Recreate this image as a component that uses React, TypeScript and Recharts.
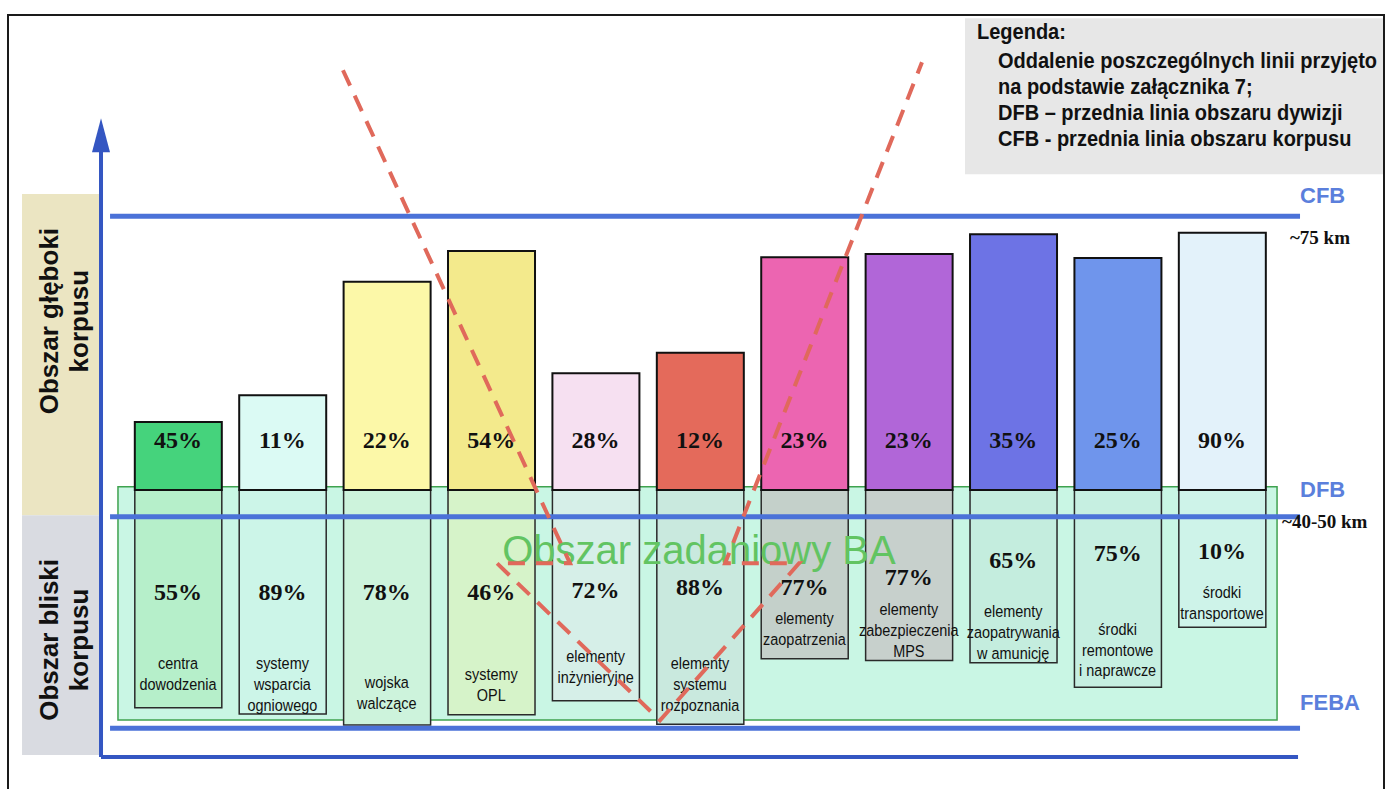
import React from "react";
import { ComposedChart, Bar, Cell, Scatter, XAxis, YAxis, ReferenceArea } from "recharts";

// horizontal unit = one column slot, vertical unit = % of the picture height
const X_DOMAIN: [number, number] = [-0.705, 12.628];
const Y_DOMAIN: [number, number] = [0, 100];

const columns = [1, 2, 3, 4, 5, 6, 7, 8, 9, 10, 11];
const categoryLines = [
  ["centra", "dowodzenia"],
  ["systemy", "wsparcia", "ogniowego"],
  ["wojska", "walczące"],
  ["systemy", "OPL"],
  ["elementy", "inżynieryjne"],
  ["elementy", "systemu", "rozpoznania"],
  ["elementy", "zaopatrzenia"],
  ["elementy", "zabezpieczenia", "MPS"],
  ["elementy", "zaopatrywania", "w amunicję"],
  ["środki", "remontowe", "i naprawcze"],
  ["środki", "transportowe"],
];
const deepShare = ["45%", "11%", "22%", "54%", "28%", "12%", "23%", "23%", "35%", "25%", "90%"];
const closeShare = ["55%", "89%", "78%", "46%", "72%", "88%", "77%", "77%", "65%", "75%", "10%"];

const barTop = [46.5, 49.9, 64.3, 68.2, 52.7, 55.3, 67.4, 67.8, 70.3, 67.3, 70.5];
const boxBottom = [10.3, 9.5, 8.1, 9.4, 11.2, 8.2, 16.5, 16.3, 16.0, 12.9, 20.5];
const SPLIT = 37.9;

const deepPctY = 44.2;
const closePctY = [25.0, 25.0, 25.0, 25.0, 25.2, 25.6, 25.6, 26.9, 29.0, 29.9, 30.2];
const categoryY = [16.0, 16.0, 13.6, 14.6, 16.9, 16.0, 21.7, 22.9, 22.6, 20.4, 25.0];

const deepColors = ["#45d37c", "#dbfaf4", "#fcf8a8", "#f3ea8c", "#f6e0f1", "#e46a5b", "#ec65b1", "#b166d8", "#6d73e5", "#6f95ec", "#e3f2fa"];
const closeColors = ["#b6efca", "#ccf5e8", "#cdf3dc", "#d6f3c9", "#d6efe8", "#c9e9de", "#c4d0ca", "#c7d0cc", "#c4edde", "#c6efe1", "#cef3e9"];

// lines: CFB, DFB, FEBA
const levelNames = ["CFB", "DFB", "FEBA"];
const levelY = [72.6, 34.5, 7.7];
const levelNameY = [74.3, 37.0, 10.0];
const levelKm = ["~75 km", "~40-50 km"];
const levelKmX = [11.651, 11.575];
const levelKmY = [69.1, 33.1];
const levelStart = 0.349;
const levelEnd = 11.747;

const axisX = 0.2625;
const axisBottom = 4.06;
const axisTop = 85.0;
const axisEnd = 11.728;

const taskArea = { x1: 0.425, x2: 11.527, y1: 8.75, y2: 38.3 };
const taskTitle = { x: 5.99, y: 28.5, t: "Obszar zadaniowy BA" };

const sidePanels = [
  { x1: -0.494, x2: 0.253, y1: 34.7, y2: 75.4, fill: "#ebe5c2", lines: ["Obszar głęboki", "korpusu"], cy: 59.3 },
  { x1: -0.494, x2: 0.253, y1: 4.3, y2: 34.7, fill: "#d9dbe1", lines: ["Obszar bliski", "korpusu"], cy: 18.9 },
];
const sideTextX = -0.1015;

const redPath = [
  { x: 2.58, y: 91.1 },
  { x: 4.755, y: 28.6 },
  { x: 4.056, y: 28.6 },
  { x: 5.617, y: 8.7 },
  { x: 6.948, y: 28.6 },
  { x: 6.24, y: 28.6 },
  { x: 8.126, y: 92.1 },
];

const legendBox = { x1: 8.538, x2: 12.552, y1: 77.9, y2: 97.7 };
const legendTitle = "Legenda:";
const legendLines = [
  "Oddalenie poszczególnych linii przyjęto",
  "na podstawie załącznika 7;",
  "DFB – przednia linia obszaru dywizji",
  "CFB - przednia linia obszaru korpusu",
];

const barRows = columns.map((x, i) => ({
  x,
  base: boxBottom[i],
  close: SPLIT - boxBottom[i],
  deep: barTop[i] - SPLIT,
}));

const SANS = "'Liberation Sans', Arial, sans-serif";
const SERIF = "'Liberation Serif', 'Times New Roman', serif";
const LINE_BLUE = "#4b72d8";
const AXIS_BLUE = "#3456c2";

const nothing = () => <g />;

const pctText = (p: any) => (
  <text x={p.cx} y={p.cy} textAnchor="middle" dominantBaseline="central" fontFamily={SERIF} fontWeight="bold" fontSize={24} fill="#111">
    {p.payload.t}
  </text>
);

// narrow sans, squeezed like Arial Narrow
const categoryText = (p: any) => (
  <text
    transform={`translate(${p.cx} ${p.cy}) scale(0.85 1)`}
    x={0}
    y={0}
    textAnchor="middle"
    dominantBaseline="central"
    fontFamily={SANS}
    fontSize={17}
    fill="#111"
  >
    {p.payload.lines.map((l: string, k: number) => (
      <tspan key={k} x={0} dy={k === 0 ? 0 : 21}>
        {l}
      </tspan>
    ))}
  </text>
);

const sideText = (p: any) => (
  <text transform={`rotate(-90 ${p.cx} ${p.cy})`} x={p.cx} y={p.cy} textAnchor="middle" fontFamily={SANS} fontWeight="bold" fontSize={26} fill="#111">
    <tspan x={p.cx} dy={-5}>{p.payload.lines[0]}</tspan>
    <tspan x={p.cx} dy={30}>{p.payload.lines[1]}</tspan>
  </text>
);

const levelText = (p: any) => (
  <text x={p.cx} y={p.cy} fontFamily={SANS} fontWeight="bold" fontSize={22} fill="#5b7fdc">
    {p.payload.t}
  </text>
);

const kmText = (p: any) => (
  <text x={p.cx} y={p.cy} fontFamily={SERIF} fontWeight="bold" fontSize={19} fill="#111">
    {p.payload.t}
  </text>
);

const titleText = (p: any) => (
  <text x={p.cx} y={p.cy} textAnchor="middle" fontFamily={SANS} fontSize={40} fill="#62c462">
    {p.payload.t}
  </text>
);

const arrowHead = (p: any) => (
  <polygon points={`${p.cx},${p.cy} ${p.cx - 9},${p.cy + 34} ${p.cx + 9},${p.cy + 34}`} fill={AXIS_BLUE} />
);

const legendContent = (props: any) => {
  const vb = props.viewBox || {};
  const row = (t: string, dx: number, dy: number, k: number) => (
    <text
      key={k}
      transform={`translate(${vb.x + dx} ${vb.y + dy}) scale(0.91 1)`}
      x={0}
      y={0}
      dominantBaseline="central"
      fontFamily={SANS}
      fontWeight="bold"
      fontSize={22}
      fill="#111"
    >
      {t}
    </text>
  );
  return (
    <g>
      {row(legendTitle, 12, 13, -1)}
      {legendLines.map((l, k) => row(l, 33, 42 + k * 26, k))}
    </g>
  );
};

export default function App() {
  const deepLabels = columns.map((x, i) => ({ x, y: deepPctY, t: deepShare[i] }));
  const closeLabels = columns.map((x, i) => ({ x, y: closePctY[i], t: closeShare[i] }));
  const catLabels = columns.map((x, i) => ({ x, y: categoryY[i], lines: categoryLines[i] }));
  const sideLabels = sidePanels.map((s) => ({ x: sideTextX, y: s.cy, lines: s.lines }));
  const levelLabels = levelNames.map((t, i) => ({ x: levelEnd, y: levelNameY[i], t }));
  const kmLabels = levelKm.map((t, i) => ({ x: levelKmX[i], y: levelKmY[i], t }));

  return (
    <div style={{ position: "relative", width: 1392, height: 789, overflow: "hidden", background: "#fff" }}>
      <style>{"body{margin:0}"}</style>
      <ComposedChart width={1392} height={789} data={barRows} margin={{ top: 0, right: 0, bottom: 0, left: 0 }}>
        <XAxis type="number" dataKey="x" domain={X_DOMAIN} allowDataOverflow hide />
        <XAxis xAxisId="bars" type="number" dataKey="x" domain={X_DOMAIN} allowDataOverflow hide />
        <YAxis type="number" dataKey="y" domain={Y_DOMAIN} allowDataOverflow hide />

        {sidePanels.map((s, i) => (
          <ReferenceArea key={i} x1={s.x1} x2={s.x2} y1={s.y1} y2={s.y2} fill={s.fill} fillOpacity={1} stroke="none" ifOverflow="visible" />
        ))}
        <ReferenceArea {...legendBox} fill="#e7e7e7" fillOpacity={1} stroke="none" ifOverflow="visible" label={legendContent} />
        <ReferenceArea {...taskArea} fill="#c9f6e4" fillOpacity={1} stroke="#3fa24f" strokeWidth={1.5} ifOverflow="visible" />

        <Bar xAxisId="bars" dataKey="base" stackId="s" barSize={87} fill="none" isAnimationActive={false} />
        <Bar xAxisId="bars" dataKey="close" stackId="s" barSize={87} stroke="#2a2a2a" strokeWidth={1.5} isAnimationActive={false}>
          {closeColors.map((c, i) => (
            <Cell key={i} fill={c} />
          ))}
        </Bar>
        <Bar xAxisId="bars" dataKey="deep" stackId="s" barSize={87} stroke="#111" strokeWidth={2} isAnimationActive={false}>
          {deepColors.map((c, i) => (
            <Cell key={i} fill={c} />
          ))}
        </Bar>

        {levelY.map((y, i) => (
          <Scatter
            key={"lv" + i}
            data={[{ x: levelStart, y }, { x: levelEnd, y }]}
            line={{ stroke: LINE_BLUE, strokeWidth: 5 }}
            shape={nothing}
            isAnimationActive={false}
          />
        ))}
        <Scatter
          data={[{ x: axisX, y: axisBottom }, { x: axisEnd, y: axisBottom }]}
          line={{ stroke: AXIS_BLUE, strokeWidth: 4 }}
          shape={nothing}
          isAnimationActive={false}
        />
        <Scatter
          data={[{ x: axisX, y: axisBottom }, { x: axisX, y: axisTop - 3 }]}
          line={{ stroke: AXIS_BLUE, strokeWidth: 4 }}
          shape={nothing}
          isAnimationActive={false}
        />
        <Scatter data={[{ x: axisX, y: axisTop }]} shape={arrowHead} isAnimationActive={false} />

        <Scatter data={sideLabels} shape={sideText} isAnimationActive={false} />
        <Scatter data={[taskTitle]} shape={titleText} isAnimationActive={false} />
        <Scatter data={deepLabels} shape={pctText} isAnimationActive={false} />
        <Scatter data={closeLabels} shape={pctText} isAnimationActive={false} />
        <Scatter data={catLabels} shape={categoryText} isAnimationActive={false} />
        <Scatter data={levelLabels} shape={levelText} isAnimationActive={false} />
        <Scatter data={kmLabels} shape={kmText} isAnimationActive={false} />

        <Scatter
          data={redPath}
          line={{ stroke: "#e0695b", strokeWidth: 4, strokeDasharray: "17 11" }}
          shape={nothing}
          isAnimationActive={false}
        />
      </ComposedChart>
      <div
        style={{
          position: "absolute",
          left: 7,
          top: 14,
          width: 1378,
          height: 800,
          border: "2px solid #1a1a1a",
          boxSizing: "border-box",
          pointerEvents: "none",
        }}
      />
    </div>
  );
}
